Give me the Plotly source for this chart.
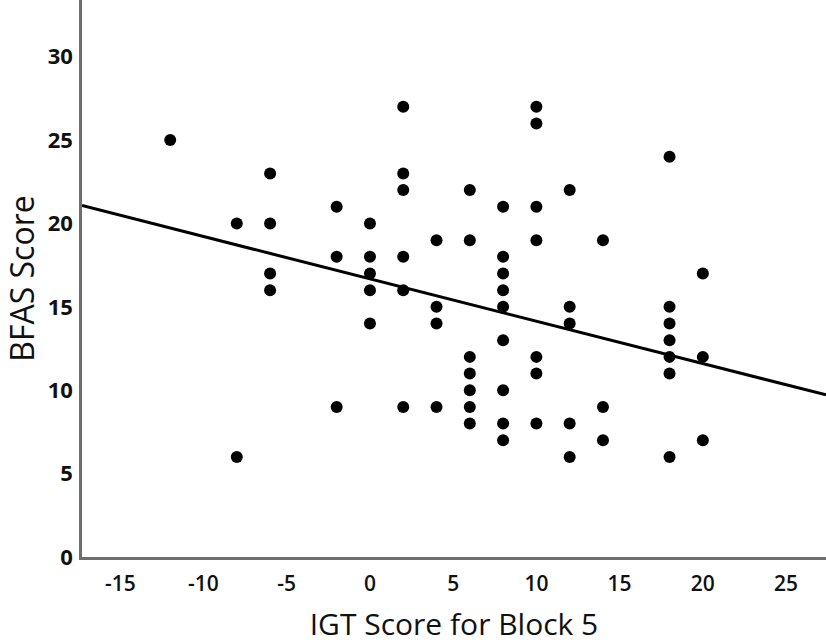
import plotly.graph_objects as go

# IGT score (x) and BFAS score (y) for each participant, grouped by x
igt_scores = ([-12] + [-8]*2 + [-6]*4 + [-2]*3 + [0]*5 + [2]*6 + [4]*4 + [6]*7 +
              [8]*9 + [10]*7 + [12]*5 + [14]*3 + [18]*7 + [20]*3)
bfas_scores = ([25] +
               [20, 6] +
               [23, 20, 17, 16] +
               [21, 18, 9] +
               [20, 18, 17, 16, 14] +
               [27, 23, 22, 18, 16, 9] +
               [19, 15, 14, 9] +
               [22, 19, 12, 11, 10, 9, 8] +
               [21, 18, 17, 16, 15, 13, 10, 8, 7] +
               [27, 26, 21, 19, 12, 11, 8] +
               [22, 15, 14, 8, 6] +
               [19, 9, 7] +
               [24, 15, 14, 13, 12, 11, 6] +
               [17, 12, 7])

# Fit line
fit_slope = -0.254
fit_intercept = 16.68

x_ticks = [-15, -10, -5, 0, 5, 10, 15, 20, 25]
x_tick_labels = ["-15", "-10", "-5", "0", "5", "10", "15", "20", "25"]
y_ticks = [0, 5, 10, 15, 20, 25, 30]

x_range = [-17.3, 27.4]
y_range = [0, 33.4]

fit_x = x_range
fit_y = [fit_intercept + fit_slope * v for v in fit_x]

fig = go.Figure()
fig.add_trace(go.Scatter(
    x=fit_x, y=fit_y, mode="lines",
    line=dict(color="black", width=3), hoverinfo="skip"))
fig.add_trace(go.Scatter(
    x=igt_scores, y=bfas_scores, mode="markers",
    marker=dict(color="black", size=12, line=dict(width=0))))

xtickfont = dict(family="Open Sans", size=21, color="#111111", weight=600)
ytickfont = dict(family="Open Sans", size=22, color="#111111", weight=700)

fig.update_layout(
    width=826, height=644,
    margin=dict(l=82, r=0, t=0, b=87),
    paper_bgcolor="white", plot_bgcolor="white",
    showlegend=False,
    xaxis=dict(range=x_range, tickvals=x_ticks, ticktext=x_tick_labels,
               showgrid=False, zeroline=False,
               showline=True, linecolor="#6e6e6e", linewidth=2.5, ticks="",
               ticklabelstandoff=6, tickfont=xtickfont, automargin=False,
               title=dict(text="IGT Score for Block 5",
                          font=dict(family="Open Sans", size=30, color="#111111"),
                          standoff=20)),
    yaxis=dict(range=y_range, tickvals=y_ticks, showgrid=False, zeroline=False,
               showline=True, linecolor="#6e6e6e", linewidth=2.5, ticks="",
               ticklabelstandoff=2, tickfont=ytickfont, automargin=False,
               title=dict(text="BFAS Score",
                          font=dict(family="Open Sans", size=32, color="#111111"),
                          standoff=6)),
)

fig.write_html("out.html", config={"displayModeBar": False},
               post_script="document.body.style.margin='0';")
